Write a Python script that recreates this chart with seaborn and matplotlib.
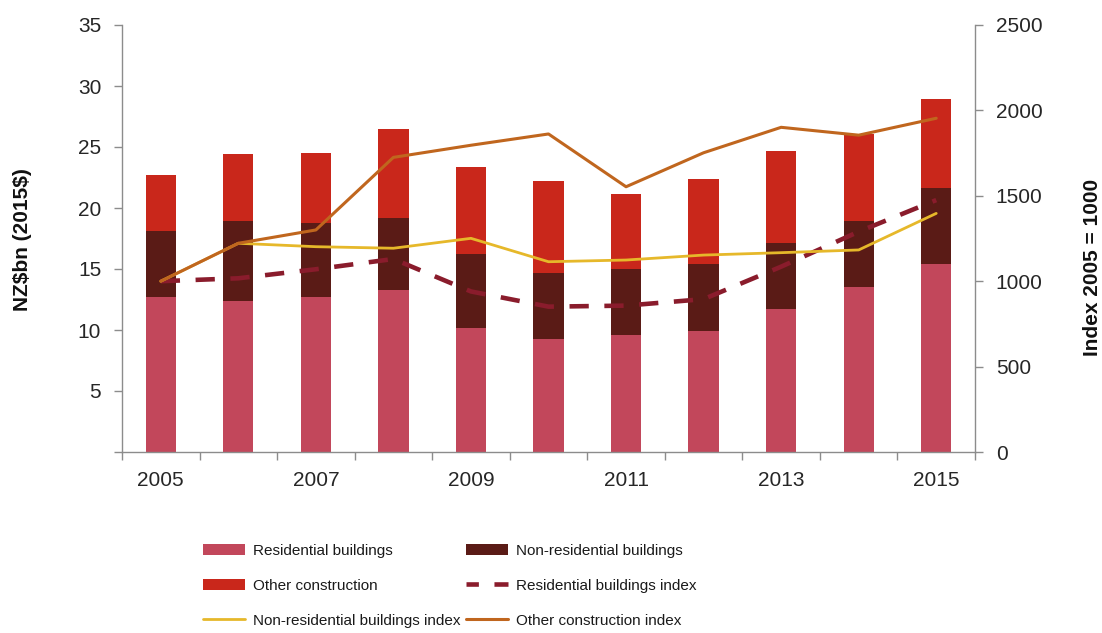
import numpy as np
import pandas as pd
import matplotlib
matplotlib.use("Agg")
import matplotlib.pyplot as plt
import seaborn as sns
from matplotlib.patches import Patch
from matplotlib.lines import Line2D

# Construction output, NZ$bn (2015$)
years = [2005, 2006, 2007, 2008, 2009, 2010, 2011, 2012, 2013, 2014, 2015]
residential = [12.7, 12.4, 12.7, 13.3, 10.2, 9.3, 9.6, 9.95, 11.7, 13.5, 15.4]
non_residential = [5.4, 6.5, 6.1, 5.85, 6.0, 5.35, 5.4, 5.45, 5.4, 5.4, 6.2]
other_construction = [4.6, 5.5, 5.7, 7.35, 7.2, 7.55, 6.15, 6.95, 7.6, 7.2, 7.35]

# Volume indices, 2005 = 1000
residential_index = [1000, 1017, 1070, 1130, 940, 851, 857, 895, 1085, 1290, 1475]
non_residential_index = [1000, 1222, 1202, 1193, 1251, 1114, 1124, 1153, 1167, 1183, 1397]
other_construction_index = [1000, 1222, 1300, 1725, 1796, 1862, 1553, 1752, 1901, 1855, 1954]

labels = ["Residential buildings", "Non-residential buildings", "Other construction",
          "Residential buildings index", "Non-residential buildings index",
          "Other construction index"]

c_res = "#C2475B"
c_nonres = "#5A1B16"
c_other = "#C9271B"
c_res_idx = "#8A1C2C"
c_nonres_idx = "#E6B82A"
c_other_idx = "#C0661E"

sns.set_style("white")
plt.rcParams["font.family"] = ["Liberation Sans", "DejaVu Sans"]

df = pd.DataFrame({
    "year": [str(y) for y in years],
    "res": residential,
    "nonres": non_residential,
    "other": other_construction,
})
df["res_nonres"] = df["res"] + df["nonres"]
df["total"] = df["res_nonres"] + df["other"]

fig = plt.figure(figsize=(11.02, 6.33), dpi=100)
ax = fig.add_axes([122 / 1102, 1 - 452 / 633, (975 - 122) / 1102, (452 - 25) / 633])

bw = 0.39
for col, colour in (("total", c_other), ("res_nonres", c_nonres), ("res", c_res)):
    sns.barplot(data=df, x="year", y=col, color=colour, width=bw, saturation=1,
                linewidth=0, edgecolor="none", ax=ax)

ax.set_xlim(-0.5, len(years) - 0.5)
ax.set_ylim(0, 35)
ax.set_yticks(np.arange(0, 36, 5))
ax.set_yticklabels([""] + [str(v) for v in range(5, 36, 5)])
ax.set_xlabel("")
ax.set_ylabel("")

pos = np.arange(len(years))
ax.set_xticks(pos[::2])
ax.set_xticklabels([str(y) for y in years[::2]])
ax.set_xticks(np.arange(-0.5, len(years), 1.0), minor=True)

ax2 = ax.twinx()
idx = pd.DataFrame({
    "pos": pos,
    "ri": residential_index,
    "ni": non_residential_index,
    "oi": other_construction_index,
})
dash = (0, (4.2, 3.4))
sns.lineplot(data=idx, x="pos", y="ri", color=c_res_idx, lw=3.3, ax=ax2, linestyle=dash)
sns.lineplot(data=idx, x="pos", y="ni", color=c_nonres_idx, lw=2.0, ax=ax2)
sns.lineplot(data=idx, x="pos", y="oi", color=c_other_idx, lw=2.2, ax=ax2)
ax2.set_ylim(0, 2500)
ax2.set_yticks(np.arange(0, 2501, 500))
ax2.set_xlabel("")
ax2.set_ylabel("")
ax2.set_xlim(-0.5, len(years) - 0.5)

axis_grey = "#8C8C8C"
for a in (ax, ax2):
    for s in a.spines.values():
        s.set_visible(False)
ax.spines["left"].set_visible(True)
ax.spines["bottom"].set_visible(True)
ax2.spines["right"].set_visible(True)
for s in (ax.spines["left"], ax.spines["bottom"], ax2.spines["right"]):
    s.set_color(axis_grey)
    s.set_linewidth(1.0)

tick_col = "#262626"
ax.tick_params(axis="y", which="major", left=True, length=6, width=1, color=axis_grey,
               pad=9, labelsize=15, labelcolor=tick_col)
ax.tick_params(axis="x", which="major", bottom=False, length=0, pad=14,
               labelsize=15, labelcolor=tick_col)
ax.tick_params(axis="x", which="minor", bottom=True, length=6, width=1, color=axis_grey)
ax2.tick_params(axis="y", right=True, length=6, width=1, color=axis_grey,
                pad=9, labelsize=15, labelcolor=tick_col)

fig.text(23 / 1102, 1 - 240 / 633, r"NZ\$bn (2015\$)", rotation=90, ha="center",
         va="center", fontsize=15, fontweight="bold", color="#111111")
fig.text(1093 / 1102, 1 - 267 / 633, "Index 2005 = 1000", rotation=90, ha="center",
         va="center", fontsize=15, fontweight="bold", color="#111111")

handles = [
    Patch(facecolor=c_res, edgecolor="none"),
    Patch(facecolor=c_nonres, edgecolor="none"),
    Patch(facecolor=c_other, edgecolor="none"),
    Line2D([], [], color=c_res_idx, lw=3.3, linestyle=(1.5, (4.2, 3.4))),
    Line2D([], [], color=c_nonres_idx, lw=2.0),
    Line2D([], [], color=c_other_idx, lw=2.2),
]
# row-major order in a two-column legend
order = [0, 2, 4, 1, 3, 5]
leg = fig.legend([handles[i] for i in order], [labels[i] for i in order],
                 ncol=2, loc="upper left", bbox_to_anchor=(203 / 1102, 1 - 544 / 633),
                 frameon=False, fontsize=11,
                 handlelength=2.75, handleheight=0.78,
                 handletextpad=0.5, columnspacing=0.4, labelspacing=1.36,
                 borderaxespad=0, borderpad=0)
for t in leg.get_texts():
    t.set_color("#1a1a1a")

fig.savefig("out.png", dpi=100)
